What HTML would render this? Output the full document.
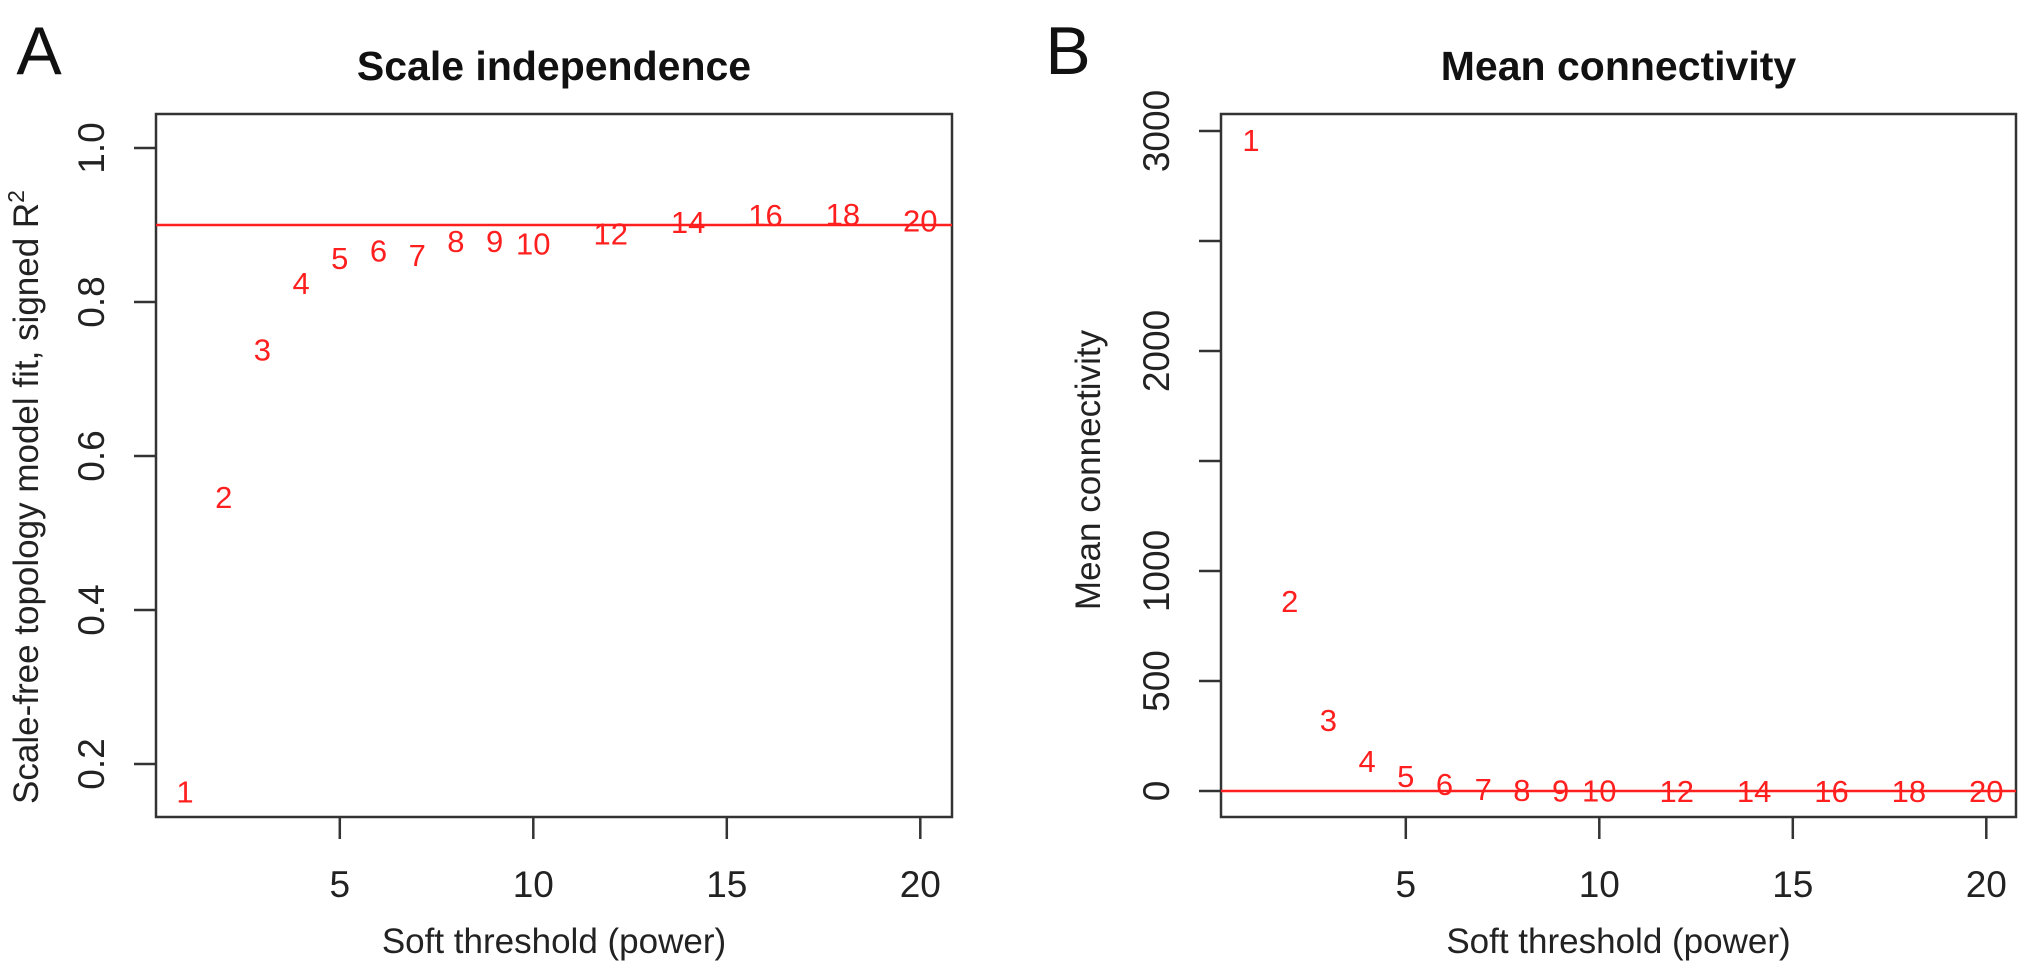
<!DOCTYPE html>
<html><head><meta charset="utf-8"><style>
html,body{margin:0;padding:0;background:#fff;}
svg{display:block;font-family:"Liberation Sans",Arial,sans-serif;}
</style></head><body>
<svg id="c" width="2031" height="974" viewBox="0 0 2031 974"></svg>
<script>
const powers=[1,2,3,4,5,6,7,8,9,10,12,14,16,18,20];
const fitValues=[0.164,0.547,0.738,0.825,0.857,0.867,0.861,0.879,0.879,0.876,0.889,0.904,0.913,0.914,0.906];
const connValues=[2960,864,322,136,68,32,10,5,3,2,1,0,0,0,0];
const xTicks=[5,10,15,20];
const leftYTicks=[0.2,0.4,0.6,0.8,1.0];
const leftYLabels=["0.2","0.4","0.6","0.8","1.0"];
const rightYTicks=[0,500,1000,1500,2000,2500,3000];
const rightYLabels=["0","500","1000","","2000","","3000"];
const fitCutoff=0.9;
const connCutoff=0;

const NS="http://www.w3.org/2000/svg";
const svg=document.getElementById('c');
function mk(tag,attrs,parent){const e=document.createElementNS(NS,tag);for(const k in attrs)e.setAttribute(k,attrs[k]);(parent||svg).appendChild(e);return e;}

function panel(cfg){
  const g=mk('g',{});
  
  
  const sx=v=>cfg.x0+(v-1)*38.7;
  const sy=cfg.sy;
  const box=mk('rect',{x:cfg.L,y:114,width:cfg.R-cfg.L,height:703,fill:'none',stroke:'#333','stroke-width':2.5},g);
  
  
  xTicks.forEach(t=>{
    const x=sx(t);
    const l=mk('line',{x1:x,y1:817,x2:x,y2:839,stroke:'#333','stroke-width':2.5},g);
    
    
    const tx=mk('text',{x:x,y:897,'font-size':37,'text-anchor':'middle',fill:'#222'},g);
    tx.textContent=t;
    
    
  });
  cfg.yTicks.forEach((t,i)=>{
    const y=sy(t);
    const l=mk('line',{x1:cfg.L-22,y1:y,x2:cfg.L,y2:y,stroke:'#333','stroke-width':2.5},g);
    
    
    if(cfg.yLabels[i]!==""){
      const tx=mk('text',{x:0,y:0,'font-size':37,'text-anchor':'middle',fill:'#222',transform:`translate(${cfg.L-52},${y}) rotate(-90)`},g);
      tx.textContent=cfg.yLabels[i];
      
      
    }
  });
  const cy=sy(cfg.cut);
  const hl=mk('line',{x1:cfg.L,y1:cy,x2:cfg.R,y2:cy,stroke:'#ff1f1f','stroke-width':2.5},g);
  
  
  powers.forEach((p,i)=>{
    const t=mk('text',{x:sx(p),y:sy(cfg.vals[i])+11,'font-size':31,'text-anchor':'middle',fill:'#ff1f1f'},g);
    t.textContent=p;
    
    
  });
  const ti=mk('text',{x:(cfg.L+cfg.R)/2,y:80,'font-size':41,'font-weight':'bold','text-anchor':'middle',fill:'#111'},g);
  ti.textContent=cfg.title;
  
  
  const xt=mk('text',{x:(cfg.L+cfg.R)/2,y:953,'font-size':35,'text-anchor':'middle',fill:'#222'},g);
  xt.textContent='Soft threshold (power)';
  
  
  const yt=mk('text',{x:0,y:0,'font-size':35,'text-anchor':'middle',fill:'#222',transform:`translate(${cfg.ytx},${cfg.yty}) rotate(-90)`},g);
  yt.innerHTML=cfg.ytitle;
  
  
  const lt=mk('text',{x:cfg.letterX,y:74,'font-size':68,'text-anchor':'middle',fill:'#111'},g);
  lt.textContent=cfg.letter;
  
  
}

panel({name:'scale-independence-panel',L:156,R:952,x0:185,sy:v=>148+(1-v)*770,yTicks:leftYTicks,yLabels:leftYLabels,cut:fitCutoff,vals:fitValues,
  title:'Scale independence',ytitle:'Scale-free topology model fit, signed R<tspan font-size="23" dy="-14">2</tspan>',ytx:38,yty:497,letter:'A',letterX:39});
panel({name:'mean-connectivity-panel',L:1221,R:2016,x0:1251,sy:v=>791-v*0.22,yTicks:rightYTicks,yLabels:rightYLabels,cut:connCutoff,vals:connValues,
  title:'Mean connectivity',ytitle:'Mean connectivity',ytx:1100,yty:470,letter:'B',letterX:1068});
</script>
</body></html>
